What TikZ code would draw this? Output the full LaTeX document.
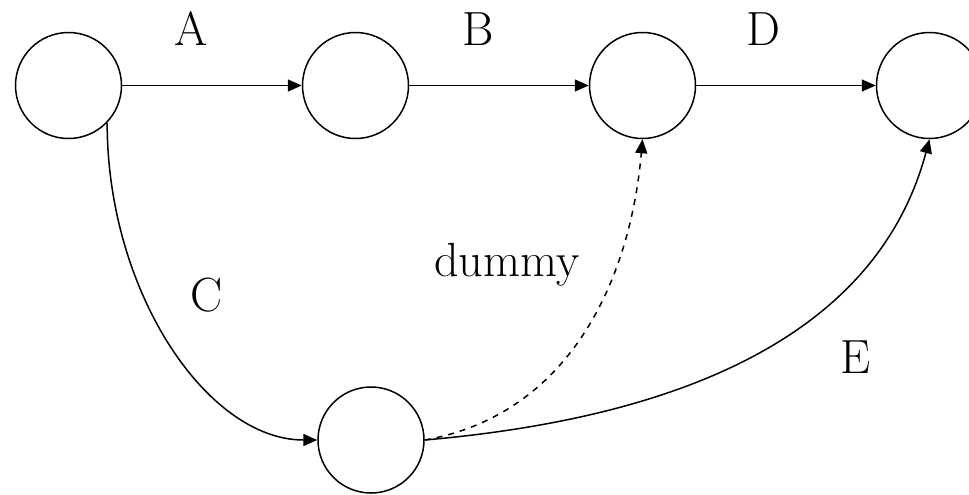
\documentclass[tikz,border=0pt]{standalone}
\usepackage{tikz}
\usetikzlibrary{arrows.meta,positioning}

\tikzset{
  ev/.style={draw, circle, line width=0.75pt, minimum size=53pt, inner sep=0pt},
  act/.style={line width=0.75pt, -{Triangle[length=7pt,width=6pt]}},
  lbl/.style={font=\fontsize{24}{28}\selectfont}
}

\begin{document}
\begin{tikzpicture}[x=0.5pt,y=-0.5pt,node distance=143.5pt]
			\useasboundingbox (0,0) rectangle (969,494);
			\node[ev] (n1) at (68.5,85.5) {};
			\node[ev, right of=n1] (n2) {};
			\node[ev, right of=n2] (n3) {};
			\node[ev, right of=n3] (n4) {};
			\node[ev] (n5) at (371,440) {};

			\node[lbl] (la) at (191.5,29) {A};
			\node[lbl] (lb) at (478,29) {B};
			\node[lbl] (ld) at (763,29) {D};
			\node[lbl] (lc) at (207,295) {C};
			\node[lbl] (le) at (856,357) {E};
			\node[lbl] (ldum) at (507,265) {dummy};

			\draw[act] (n1)--(n2);
			\draw[act] (n2)--(n3);
			\draw[act] (n3)--(n4);
			\draw[act] (n1.-44) to[out=-90, in=180, out looseness=1.14, in looseness=0.74] (n5.west);
			\draw[act, dashed] (n5.east) to[out=10, in=-95] (n3.south);
			\draw[act] (n5.east) to[out=5, in=-105, out looseness=1.3, in looseness=0.78] (n4.south);
		\end{tikzpicture}
\end{document}
